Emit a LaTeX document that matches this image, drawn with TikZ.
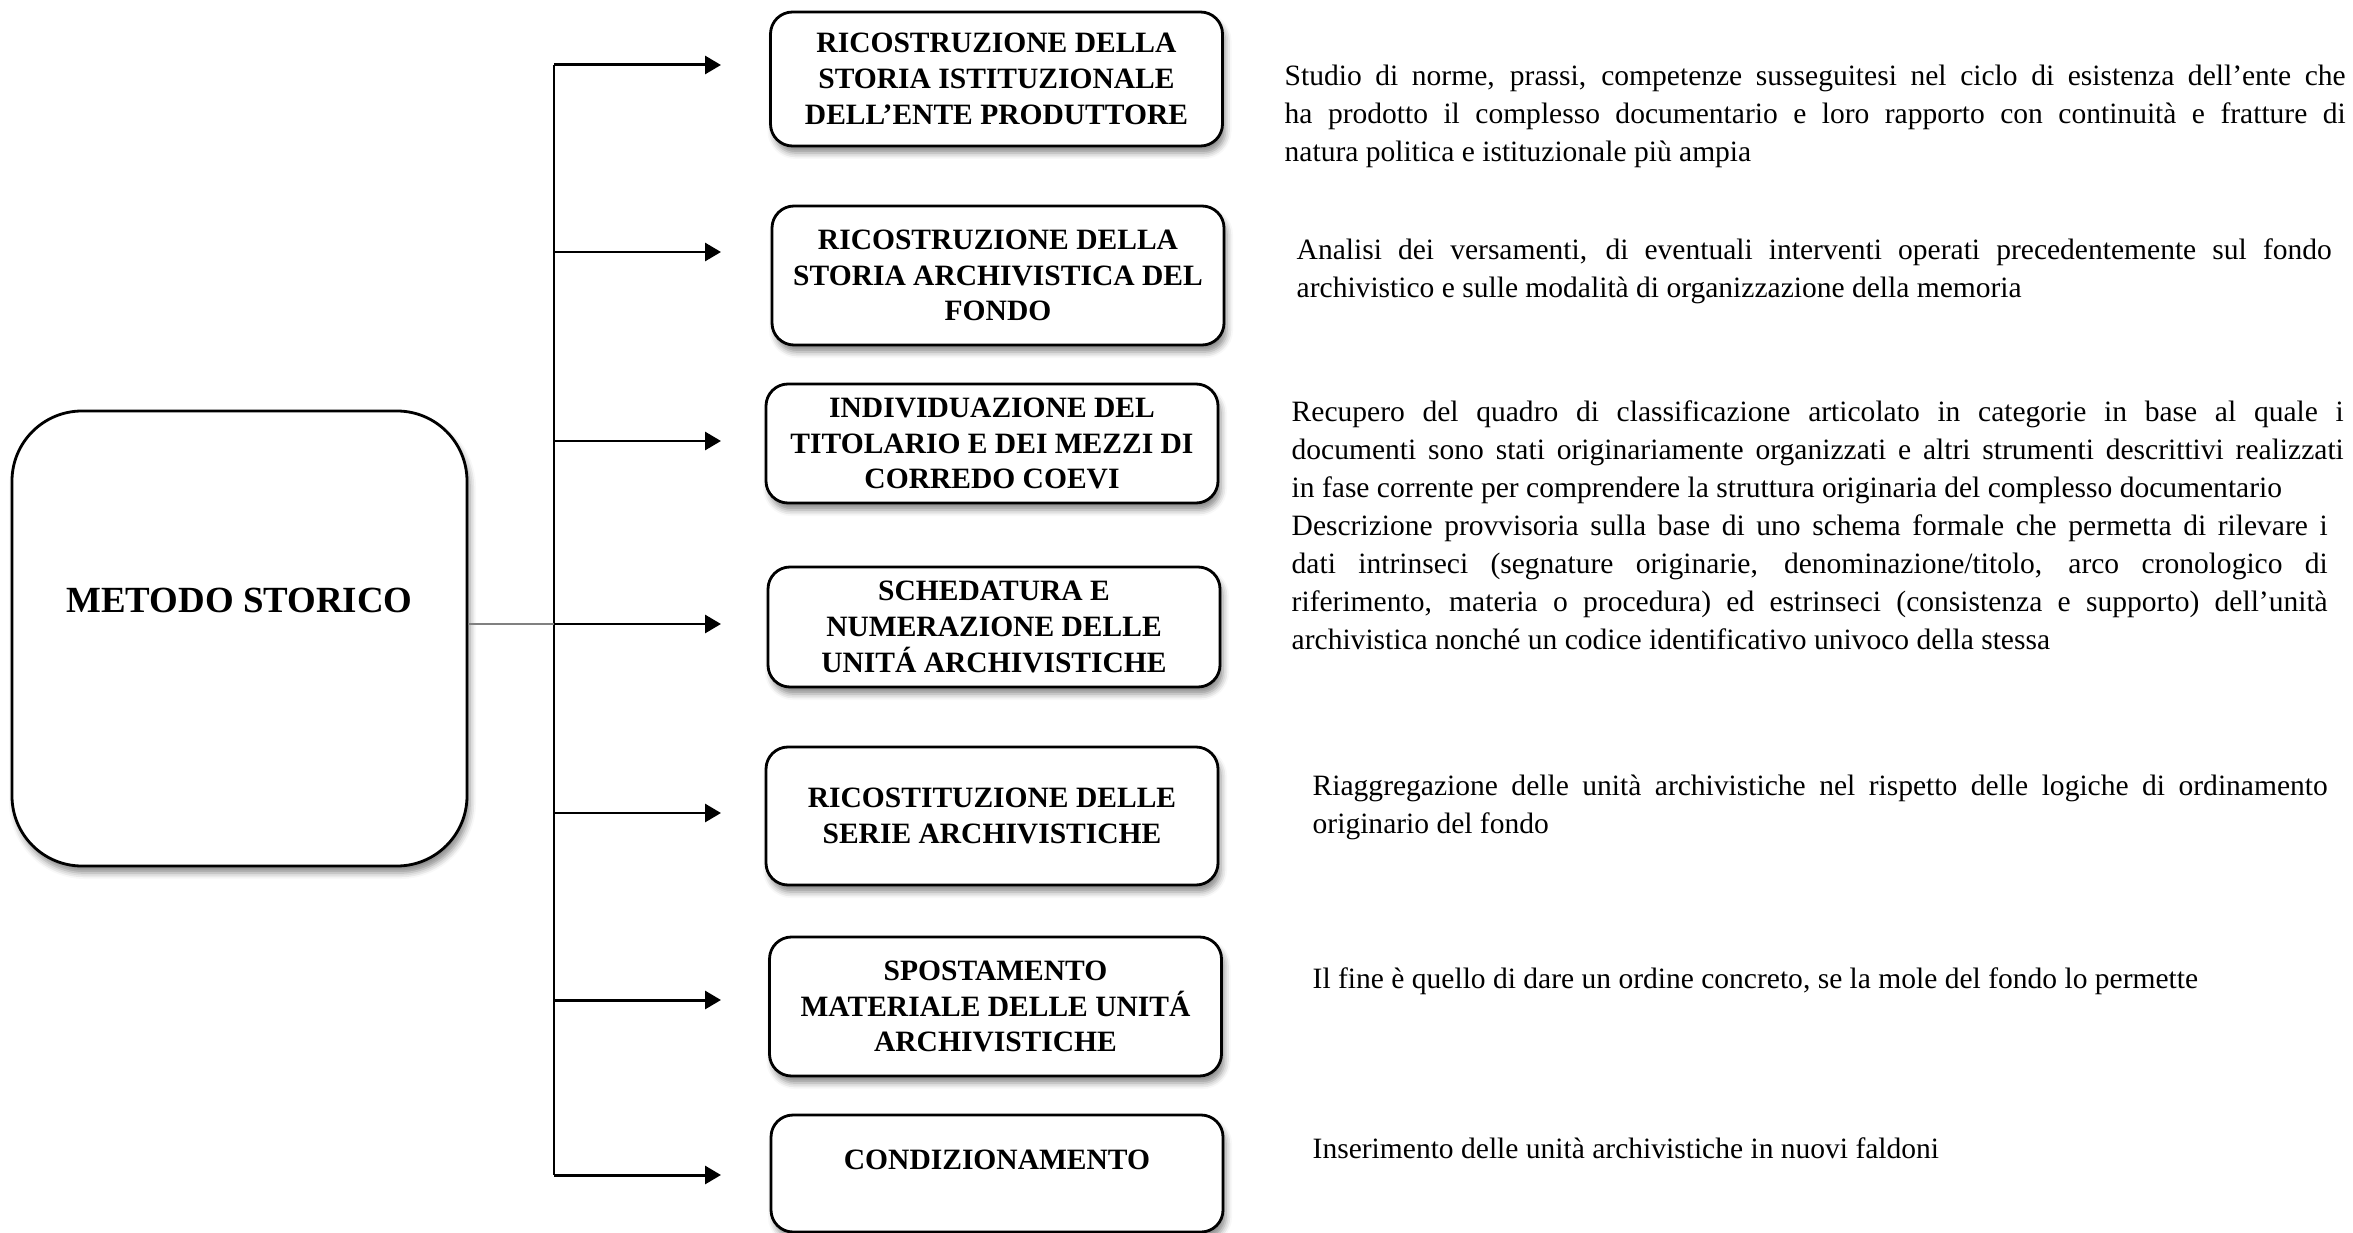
\documentclass[tikz,border=0pt]{standalone}
\usepackage{fontspec}
\setmainfont{Liberation Serif}
\usetikzlibrary{positioning, arrows.meta, shadows.blur}

\tikzset{
  box/.style={draw, line width=0.8pt, rounded corners=0.22cm, fill=white,
    minimum width=4.52cm, inner ysep=3pt, align=center,
    font=\bfseries\fontsize{8.4}{10.2}\selectfont,
    blur shadow={shadow xshift=0.03cm, shadow yshift=-0.07cm, shadow blur radius=0.06cm, shadow opacity=45}},
  desc/.style={anchor=north west, inner sep=0pt, align=justify,
    font=\fontsize{8.4}{10.8}\selectfont},
  arr/.style={line width=0.85pt, -{Triangle[length=0.16cm, width=0.18cm]}},
  trunk/.style={line width=0.45pt}
}

\begin{document}
\begin{tikzpicture}
	\useasboundingbox (0,0) rectangle (23.53,-12.33);
	\node[box, rounded corners=0.7cm, minimum width=4.55cm, minimum height=4.55cm, text depth=0.77cm, font=\bfseries\fontsize{10.5}{12}\selectfont] (ms) at (2.395,-6.385) {METODO STORICO};
	\node[box, minimum height=1.34cm] (b1) at (9.965,-0.79) {RICOSTRUZIONE DELLA\\STORIA ISTITUZIONALE\\DELL’ENTE PRODUTTORE};
	\node[box, minimum height=1.39cm] (b2) at (9.98,-2.755) {RICOSTRUZIONE DELLA\\STORIA ARCHIVISTICA DEL\\FONDO};
	\node[box, minimum height=1.19cm] (b3) at (9.92,-4.435) {INDIVIDUAZIONE DEL\\TITOLARIO E DEI MEZZI DI\\CORREDO COEVI};
	\node[box, minimum height=1.2cm] (b4) at (9.94,-6.27) {SCHEDATURA E\\NUMERAZIONE DELLE\\UNITÁ ARCHIVISTICHE};
	\node[box, minimum height=1.38cm] (b5) at (9.92,-8.16) {RICOSTITUZIONE DELLE\\SERIE ARCHIVISTICHE};
	\node[box, minimum height=1.39cm] (b6) at (9.955,-10.065) {SPOSTAMENTO\\MATERIALE DELLE UNITÁ\\ARCHIVISTICHE};
	\node[box, minimum height=1.17cm, text depth=0.27cm] (b7) at (9.97,-11.735) {CONDIZIONAMENTO};

	\foreach \i/\y in {1/0.65, 2/2.52, 3/4.41, 4/6.24, 5/8.13, 6/10.0, 7/11.75} {
		\coordinate (s\i) at (5.54,-\y);
		\coordinate (e\i) at (7.21,-\y);
		\draw[arr] (s\i) -- (e\i);
	}
	\draw[trunk] (s1) -- (s7);
	\draw[gray, line width=0.5pt] (ms.east |- s4) -- (s4);

	\node[desc, text width=10.61cm] (d1) at (12.84,-0.64) {Studio di norme, prassi, competenze susseguitesi nel ciclo di esistenza dell’ente che\linebreak ha prodotto il complesso documentario e loro rapporto con continuità e fratture di\linebreak natura politica e istituzionale più ampia};
	\node[desc, text width=10.35cm] (d2) at (12.96,-2.38) {Analisi dei versamenti, di eventuali interventi operati precedentemente sul fondo\linebreak archivistico e sulle modalità di organizzazione della memoria};
	\node[desc, text width=10.52cm] (d3) at (12.91,-4.0) {Recupero del quadro di classificazione articolato in categorie in base al quale i\linebreak documenti sono stati originariamente organizzati e altri strumenti descrittivi realizzati\linebreak in fase corrente per comprendere la struttura originaria del complesso documentario};
	\node[desc, text width=10.36cm] (d4) at (12.91,-5.14) {Descrizione provvisoria sulla base di uno schema formale che permetta di rilevare i\linebreak dati intrinseci (segnature originarie, denominazione/titolo, arco cronologico di\linebreak riferimento, materia o procedura) ed estrinseci (consistenza e supporto) dell’unità\linebreak archivistica nonché un codice identificativo univoco della stessa};
	\node[desc, text width=10.15cm] (d5) at (13.12,-7.74) {Riaggregazione delle unità archivistiche nel rispetto delle logiche di ordinamento\linebreak originario del fondo};
	\node[desc, text width=10.15cm] (d6) at (13.12,-9.67) {Il fine è quello di dare un ordine concreto, se la mole del fondo lo permette};
	\node[desc, text width=10.15cm] (d7) at (13.12,-11.37) {Inserimento delle unità archivistiche in nuovi faldoni};
\end{tikzpicture}
\end{document}
